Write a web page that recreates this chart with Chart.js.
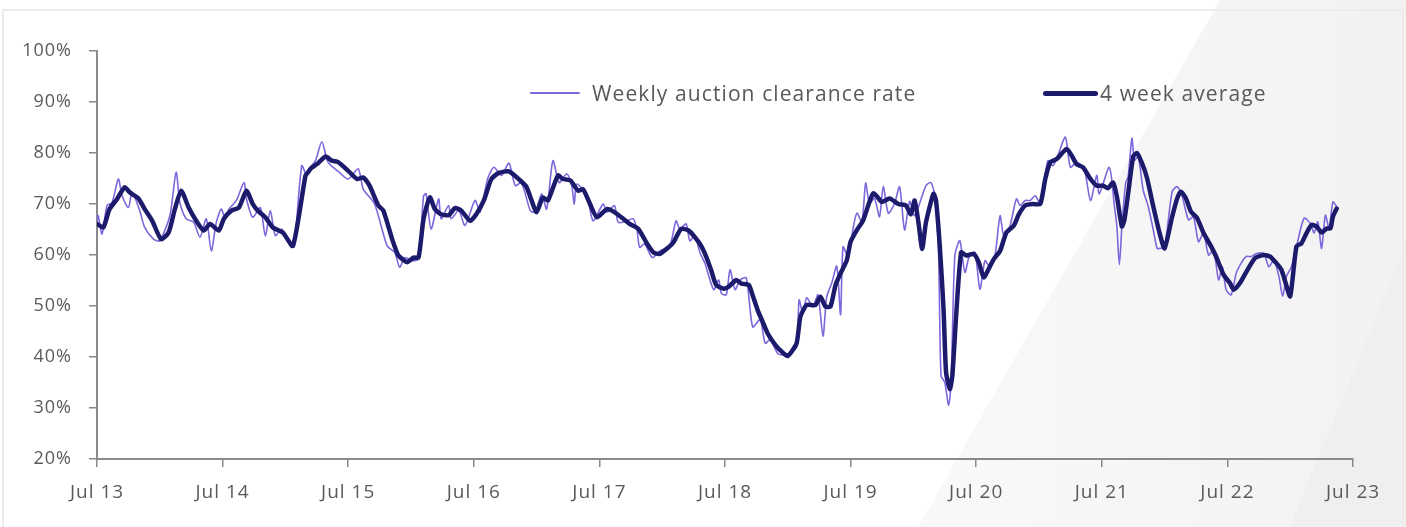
<!DOCTYPE html>
<html>
<head>
<meta charset="utf-8">
<title>Auction clearance rate</title>
<script src="https://cdn.jsdelivr.net/npm/chart.js@4.4.1/dist/chart.umd.min.js"></script>
<style>
  html, body { margin: 0; padding: 0; background: #fff; }
  #wrap { position: relative; width: 1406px; height: 527px; overflow: hidden; }
  #chart { position: absolute; left: 0; top: 0; }
  .lg-item { position: absolute; top: 78px; height: 30px; display: flex; align-items: center;
             font-family: "Open Sans", sans-serif; font-size: 21px; letter-spacing: 1.1px;
             color: #595959; white-space: nowrap; }
  .lg-swatch { display: inline-block; border-radius: 3px; margin-right: 12px; }
</style>
</head>
<body>
<div id="wrap">
  <canvas id="chart" width="1406" height="527"></canvas>
  <div class="lg-item" style="left:530px"><span class="lg-swatch" style="width:50px;height:2px;background:#7e66dc"></span>Weekly auction clearance rate</div>
  <div class="lg-item" style="left:1043px"><span class="lg-swatch" style="width:55px;height:5px;background:#1c1a6b;margin-right:2px"></span>4 week average</div>
</div>
<script>
// ---- data (x = decimal year, y = clearance rate %) -------------------------
const xTickPositions = [2013.5, 2014.5, 2015.5, 2016.5, 2017.5, 2018.5, 2019.5, 2020.5, 2021.5, 2022.5, 2023.5];
const xTickLabels = ['Jul 13', 'Jul 14', 'Jul 15', 'Jul 16', 'Jul 17', 'Jul 18', 'Jul 19', 'Jul 20', 'Jul 21', 'Jul 22', 'Jul 23'];
const yTickValues = [20, 30, 40, 50, 60, 70, 80, 90, 100];

const weeklyDates = [
  2013.50, 2013.51, 2013.54, 2013.58, 2013.62, 2013.67, 2013.70, 2013.75, 2013.78, 2013.84,
  2013.88, 2013.95, 2014.00, 2014.08, 2014.13, 2014.16, 2014.21, 2014.27, 2014.32, 2014.37,
  2014.41, 2014.45, 2014.49, 2014.52, 2014.55, 2014.61, 2014.67, 2014.69, 2014.74, 2014.80,
  2014.84, 2014.88, 2014.92, 2014.97, 2015.04, 2015.07, 2015.13, 2015.17, 2015.19, 2015.24,
  2015.29, 2015.34, 2015.43, 2015.50, 2015.58, 2015.62, 2015.71, 2015.81, 2015.87, 2015.91,
  2015.95, 2016.01, 2016.06, 2016.10, 2016.12, 2016.16, 2016.22, 2016.24, 2016.30, 2016.32,
  2016.38, 2016.43, 2016.51, 2016.55, 2016.61, 2016.66, 2016.72, 2016.78, 2016.83, 2016.88,
  2016.95, 2016.99, 2017.04, 2017.08, 2017.13, 2017.18, 2017.24, 2017.28, 2017.30, 2017.32,
  2017.40, 2017.45, 2017.53, 2017.56, 2017.62, 2017.65, 2017.72, 2017.77, 2017.80, 2017.82,
  2017.86, 2017.92, 2017.98, 2018.06, 2018.11, 2018.14, 2018.19, 2018.22, 2018.26, 2018.30,
  2018.34, 2018.41, 2018.45, 2018.47, 2018.51, 2018.54, 2018.58, 2018.62, 2018.67, 2018.72,
  2018.78, 2018.82, 2018.86, 2018.92, 2018.96, 2019.01, 2019.07, 2019.09, 2019.12, 2019.15,
  2019.20, 2019.24, 2019.28, 2019.31, 2019.35, 2019.39, 2019.42, 2019.44, 2019.48, 2019.52,
  2019.55, 2019.59, 2019.62, 2019.65, 2019.69, 2019.73, 2019.76, 2019.80, 2019.85, 2019.89,
  2019.93, 2019.97, 2020.01, 2020.10, 2020.14, 2020.17, 2020.20, 2020.22, 2020.25, 2020.28,
  2020.30, 2020.33, 2020.37, 2020.41, 2020.45, 2020.49, 2020.53, 2020.57, 2020.61, 2020.65,
  2020.69, 2020.72, 2020.77, 2020.82, 2020.85, 2020.89, 2020.93, 2020.97, 2021.01, 2021.07,
  2021.11, 2021.15, 2021.21, 2021.25, 2021.30, 2021.36, 2021.41, 2021.46, 2021.48, 2021.56,
  2021.60, 2021.62, 2021.64, 2021.66, 2021.69, 2021.71, 2021.74, 2021.76, 2021.79, 2021.83,
  2021.87, 2021.91, 2021.94, 2021.96, 2022.00, 2022.06, 2022.10, 2022.14, 2022.19, 2022.23,
  2022.27, 2022.31, 2022.35, 2022.39, 2022.43, 2022.46, 2022.49, 2022.53, 2022.57, 2022.61,
  2022.65, 2022.69, 2022.73, 2022.79, 2022.83, 2022.87, 2022.91, 2022.94, 2022.97, 2023.01,
  2023.05, 2023.11, 2023.16, 2023.19, 2023.22, 2023.25, 2023.28, 2023.31, 2023.34, 2023.37
];
const weeklyRates = [
  66.5, 67.7, 64.1, 69.7, 70.3, 74.9, 71.6, 69.3, 72.3, 68.7,
  65.4, 63.1, 62.8, 67.7, 76.2, 70.3, 67.1, 66.4, 63.5, 67.1,
  60.8, 66.4, 69.0, 67.1, 69.0, 70.7, 74.2, 71.0, 67.4, 69.3,
  63.8, 68.7, 63.8, 65.1, 61.8, 61.8, 77.5, 75.6, 76.9, 78.5,
  82.2, 78.2, 76.2, 74.9, 76.9, 72.9, 70.0, 61.8, 60.5, 57.6,
  59.5, 58.9, 59.2, 71.6, 72.0, 65.1, 71.0, 67.1, 69.7, 67.1,
  68.7, 65.8, 70.7, 68.4, 74.9, 77.2, 75.6, 78.0, 73.6, 74.2,
  68.7, 68.4, 72.0, 69.0, 78.5, 74.2, 75.9, 73.6, 70.0, 73.9,
  71.6, 66.7, 70.0, 68.4, 69.7, 66.4, 66.7, 67.1, 64.8, 61.5,
  62.2, 59.5, 60.8, 61.8, 66.7, 65.1, 66.1, 62.8, 63.8, 60.5,
  58.4, 53.2, 55.1, 52.5, 52.2, 57.1, 53.2, 55.1, 55.5, 45.9,
  47.3, 42.7, 43.4, 40.7, 40.4, 40.7, 42.0, 51.2, 48.6, 51.6,
  49.9, 52.2, 44.1, 51.8, 54.5, 57.8, 48.3, 61.6, 59.7, 65.2,
  68.2, 66.5, 74.1, 70.1, 71.1, 67.5, 73.4, 68.2, 70.1, 73.4,
  64.9, 70.5, 67.7, 73.6, 74.2, 71.6, 60.5, 36.3, 35.0, 30.5,
  35.0, 59.9, 62.8, 56.6, 60.2, 60.5, 53.3, 58.9, 57.6, 59.9,
  67.7, 63.8, 65.8, 71.0, 69.7, 70.7, 70.7, 71.6, 70.0, 78.5,
  77.5, 79.5, 83.1, 77.2, 78.2, 76.9, 70.7, 75.6, 72.0, 77.2,
  69.7, 65.6, 58.1, 65.6, 74.1, 75.4, 82.9, 78.6, 79.3, 72.7,
  69.5, 64.9, 61.3, 61.3, 61.6, 72.4, 73.4, 71.5, 66.9, 67.5,
  62.6, 64.3, 60.0, 61.0, 55.1, 57.7, 53.2, 52.2, 56.4, 58.4,
  59.7, 59.7, 60.3, 60.3, 57.7, 59.0, 55.8, 51.9, 55.8, 57.7,
  61.6, 67.2, 66.2, 64.3, 66.5, 61.3, 67.8, 65.2, 70.4, 69.5
];

const avgDates = [
  2013.50, 2013.55, 2013.60, 2013.66, 2013.72, 2013.76, 2013.83, 2013.88, 2013.94, 2014.01,
  2014.07, 2014.12, 2014.17, 2014.23, 2014.29, 2014.35, 2014.40, 2014.47, 2014.51, 2014.57,
  2014.63, 2014.69, 2014.74, 2014.78, 2014.84, 2014.90, 2014.98, 2015.06, 2015.16, 2015.18,
  2015.20, 2015.26, 2015.32, 2015.37, 2015.42, 2015.50, 2015.57, 2015.62, 2015.67, 2015.74,
  2015.78, 2015.85, 2015.90, 2015.97, 2016.02, 2016.06, 2016.10, 2016.15, 2016.19, 2016.24,
  2016.30, 2016.35, 2016.40, 2016.47, 2016.52, 2016.58, 2016.64, 2016.70, 2016.78, 2016.87,
  2016.92, 2016.96, 2017.00, 2017.05, 2017.09, 2017.17, 2017.21, 2017.27, 2017.33, 2017.37,
  2017.42, 2017.48, 2017.56, 2017.62, 2017.69, 2017.74, 2017.81, 2017.88, 2017.93, 2017.98,
  2018.05, 2018.09, 2018.15, 2018.21, 2018.26, 2018.31, 2018.35, 2018.39, 2018.43, 2018.49,
  2018.53, 2018.59, 2018.63, 2018.69, 2018.72, 2018.76, 2018.80, 2018.84, 2018.90, 2018.95,
  2019.00, 2019.07, 2019.10, 2019.15, 2019.22, 2019.26, 2019.30, 2019.34, 2019.38, 2019.42,
  2019.47, 2019.50, 2019.55, 2019.60, 2019.68, 2019.75, 2019.81, 2019.88, 2019.94, 2019.98,
  2020.01, 2020.04, 2020.07, 2020.10, 2020.16, 2020.18, 2020.21, 2020.24, 2020.26, 2020.29,
  2020.31, 2020.34, 2020.38, 2020.42, 2020.48, 2020.52, 2020.56, 2020.60, 2020.64, 2020.69,
  2020.74, 2020.80, 2020.84, 2020.89, 2020.95, 2021.01, 2021.05, 2021.09, 2021.14, 2021.22,
  2021.26, 2021.30, 2021.35, 2021.41, 2021.46, 2021.51, 2021.55, 2021.59, 2021.62, 2021.66,
  2021.68, 2021.71, 2021.75, 2021.78, 2021.82, 2021.86, 2021.91, 2021.96, 2022.00, 2022.06,
  2022.10, 2022.13, 2022.17, 2022.21, 2022.26, 2022.31, 2022.37, 2022.41, 2022.47, 2022.52,
  2022.55, 2022.60, 2022.66, 2022.72, 2022.79, 2022.84, 2022.89, 2022.93, 2022.96, 2023.00,
  2023.05, 2023.09, 2023.13, 2023.17, 2023.21, 2023.25, 2023.29, 2023.32, 2023.34, 2023.37
];
const avgRates = [
  66.1, 65.4, 69.0, 71.0, 73.3, 72.3, 71.1, 69.0, 66.7, 63.1,
  64.4, 69.0, 72.6, 69.3, 66.7, 64.8, 66.1, 64.8, 67.1, 68.7,
  69.3, 72.6, 70.0, 68.7, 67.4, 65.4, 64.4, 61.8, 75.6, 76.2,
  76.9, 78.0, 79.3, 78.5, 78.2, 76.5, 74.9, 75.2, 73.6, 69.7,
  68.7, 63.1, 59.9, 58.6, 59.5, 59.5, 67.1, 71.3, 69.0, 68.0,
  67.8, 69.2, 68.7, 66.7, 68.0, 70.7, 74.9, 76.1, 76.4, 74.6,
  73.3, 70.7, 68.4, 71.3, 70.7, 75.6, 74.9, 74.6, 72.6, 72.9,
  70.3, 67.4, 69.0, 68.4, 67.1, 66.1, 65.1, 62.2, 60.5, 60.2,
  61.5, 62.5, 65.1, 64.8, 63.5, 61.8, 59.7, 57.0, 54.1, 53.4,
  53.8, 55.1, 54.4, 54.1, 52.1, 49.2, 46.9, 44.6, 42.4, 41.1,
  40.2, 42.7, 47.9, 50.2, 50.2, 51.8, 49.9, 49.9, 54.1, 56.4,
  59.0, 62.6, 64.9, 66.8, 72.1, 70.4, 71.1, 70.0, 69.7, 68.0,
  70.7, 66.4, 61.2, 66.4, 72.0, 70.7, 61.8, 49.4, 37.0, 33.7,
  36.3, 48.0, 60.5, 59.9, 60.2, 58.6, 55.6, 57.3, 59.2, 60.8,
  64.4, 65.8, 68.0, 69.7, 70.0, 70.0, 74.9, 78.2, 78.8, 80.8,
  79.5, 77.8, 77.2, 74.9, 73.6, 73.6, 73.1, 74.2, 71.5, 65.6,
  66.9, 72.1, 79.3, 80.0, 78.0, 75.1, 69.5, 64.3, 61.3, 67.5,
  71.1, 72.4, 71.1, 68.5, 67.2, 64.3, 61.7, 59.7, 56.1, 54.5,
  53.2, 54.5, 57.1, 59.4, 60.0, 59.7, 58.4, 57.1, 54.8, 51.9,
  61.7, 62.3, 64.3, 65.9, 65.6, 64.4, 65.2, 65.2, 67.5, 69.1
];

// ---- styling ---------------------------------------------------------------
const AXIS_GREY = '#8a8a8a';
const TEXT_GREY = '#5a5a5a';
const FONT = '"Open Sans", sans-serif';

function toPoints(xs, ys) {
  return xs.map((x, i) => ({ x, y: ys[i] }));
}

// card border + the pale diagonal panel on the right
const backdrop = {
  id: 'backdrop',
  beforeDraw(chart) {
    const { ctx, width, height } = chart;
    ctx.save();
    ctx.fillStyle = '#ffffff';
    ctx.fillRect(0, 0, width, height);

    const g = ctx.createLinearGradient(918, 0, width, 0);
    g.addColorStop(0, '#f9f9f9');
    g.addColorStop(1, '#f2f2f2');
    ctx.fillStyle = g;
    ctx.beginPath();
    ctx.moveTo(1220, 0);
    ctx.lineTo(width, 0);
    ctx.lineTo(width, height);
    ctx.lineTo(918, height);
    ctx.closePath();
    ctx.fill();

    ctx.fillStyle = '#efefef';
    ctx.beginPath();
    ctx.moveTo(width, 243);
    ctx.lineTo(width, height);
    ctx.lineTo(1290, height);
    ctx.closePath();
    ctx.fill();

    ctx.strokeStyle = '#ececec';
    ctx.lineWidth = 2;
    ctx.strokeRect(3, 10, width - 6, height + 10);
    ctx.restore();
    // wider tracking for the axis labels (closer to the original's geometric face)
    ctx.letterSpacing = '1px';
  }
};

new Chart(document.getElementById('chart'), {
  type: 'line',
  data: {
    datasets: [
      {
        label: 'Weekly auction clearance rate',
        data: toPoints(weeklyDates, weeklyRates),
        borderColor: '#7e66dc',
        borderWidth: 1.6,
        pointRadius: 0,
        tension: 0.25,
        order: 2,
      },
      {
        label: '4 week average',
        data: toPoints(avgDates, avgRates),
        borderColor: '#1c1a6b',
        borderWidth: 4.5,
        pointRadius: 0,
        tension: 0.2,
        borderJoinStyle: 'round',
        borderCapStyle: 'round',
        order: 1,
      },
    ],
  },
  options: {
    responsive: false,
    animation: false,
    devicePixelRatio: 1,
    layout: { padding: { top: 51, right: 53, left: 0, bottom: 0 } },
    plugins: { legend: { display: false }, tooltip: { enabled: false } },
    scales: {
      x: {
        type: 'linear',
        min: xTickPositions[0],
        max: xTickPositions[xTickPositions.length - 1],
        afterBuildTicks(scale) { scale.ticks = xTickPositions.map(v => ({ value: v })); },
        afterFit(scale) { scale.height = 68; },
        grid: { drawOnChartArea: false, drawTicks: true, tickLength: 8, color: AXIS_GREY, lineWidth: 1.5 },
        border: { display: true, color: AXIS_GREY, width: 2 },
        ticks: {
          autoSkip: false, maxRotation: 0, padding: 14, color: TEXT_GREY,
          font: { family: FONT, size: 19 },
          callback: (v, i) => xTickLabels[i],
        },
      },
      y: {
        min: yTickValues[0],
        max: yTickValues[yTickValues.length - 1],
        afterBuildTicks(scale) { scale.ticks = yTickValues.map(v => ({ value: v })); },
        afterFit(scale) { scale.width = 97; },
        grid: { drawOnChartArea: false, drawTicks: true, tickLength: 8, color: AXIS_GREY, lineWidth: 1.5 },
        border: { display: true, color: AXIS_GREY, width: 2 },
        ticks: {
          padding: 17, color: TEXT_GREY,
          font: { family: FONT, size: 18 },
          callback: v => v + '%',
        },
      },
    },
  },
  plugins: [backdrop],
});
</script>
</body>
</html>
